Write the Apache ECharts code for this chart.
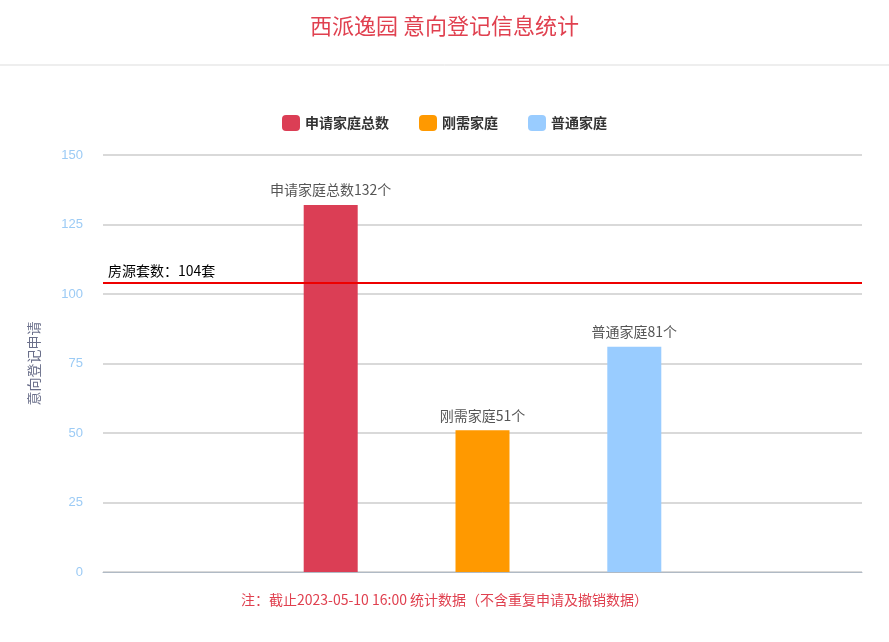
<!DOCTYPE html>
<html><head><meta charset="utf-8">
<script src="https://cdn.jsdelivr.net/npm/echarts@6/dist/echarts.min.js"></script>
<style>html,body{margin:0;padding:0;background:#fff}#main{width:889px;height:642px}</style>
</head><body><div id="main"></div>
<script>
var categories = ['', '申请家庭总数', '刚需家庭', '普通家庭', ''];
var seriesNames = ['申请家庭总数', '刚需家庭', '普通家庭'];
var seriesValues = [132, 51, 81];
var seriesColors = ['#db3e55', '#ff9900', '#99ccff'];
var housingCount = 104;

var myChart = echarts.init(document.getElementById('main'));
var font = '"Noto Sans CJK SC", sans-serif';

var series = seriesNames.map(function (name, i) {
    var data = categories.map(function () { return null; });
    data[i + 1] = seriesValues[i];
    var s = {
        name: name,
        type: 'bar',
        stack: 'all',
        barWidth: 54,
        data: data,
        itemStyle: { color: seriesColors[i] },
        label: {
            show: true, position: 'top', color: '#555', fontSize: 14, fontFamily: font, distance: 8,
            formatter: function (p) { return name + p.value + '个'; }
        }
    };
    if (i === 0) {
        s.markLine = {
            symbol: 'none', silent: true,
            lineStyle: { color: '#ee0000', width: 2, type: 'solid' },
            label: { position: 'insideStartTop', color: '#000', fontSize: 14, fontFamily: font,
                     formatter: '房源套数：' + housingCount + '套' },
            data: [{ yAxis: housingCount }]
        };
    }
    return s;
});

var option = {
    title: {
        text: '西派逸园 意向登记信息统计', left: 'center', top: 10,
        textStyle: { color: '#e0404f', fontSize: 22, fontWeight: 'normal', fontFamily: font }
    },
    graphic: [
        { type: 'line', shape: { x1: 0, y1: 65, x2: 889, y2: 65 }, style: { stroke: '#ddd', lineWidth: 1 } },
        { type: 'text', left: 'center', top: 593,
          style: { text: '注：截止2023-05-10 16:00 统计数据（不含重复申请及撤销数据）', fill: '#e0404f', fontSize: 14, fontFamily: font } }
    ],
    legend: {
        top: 110, left: 'center', itemWidth: 18, itemHeight: 16, itemGap: 30,
        textStyle: { fontSize: 14, fontWeight: 'bold', color: '#333', fontFamily: font },
        data: seriesNames
    },
    grid: { left: 103, right: 27, top: 155, bottom: 70 },
    xAxis: {
        type: 'category', data: categories,
        axisLine: { lineStyle: { color: '#b0bac5' } },
        axisTick: { show: false }, axisLabel: { show: false }
    },
    yAxis: {
        type: 'value', min: 0, max: 150, interval: 25,
        name: '意向登记申请', nameLocation: 'middle', nameGap: 62, nameRotate: 90,
        nameTextStyle: { color: '#6a6f8a', fontSize: 14, fontFamily: font },
        axisLine: { show: false }, axisTick: { show: false },
        axisLabel: { color: '#9ccbf5', fontSize: 13, margin: 20 },
        splitLine: { lineStyle: { color: '#cccccc', width: 1.5 } }
    },
    series: series
};
myChart.setOption(option);
</script></body></html>
